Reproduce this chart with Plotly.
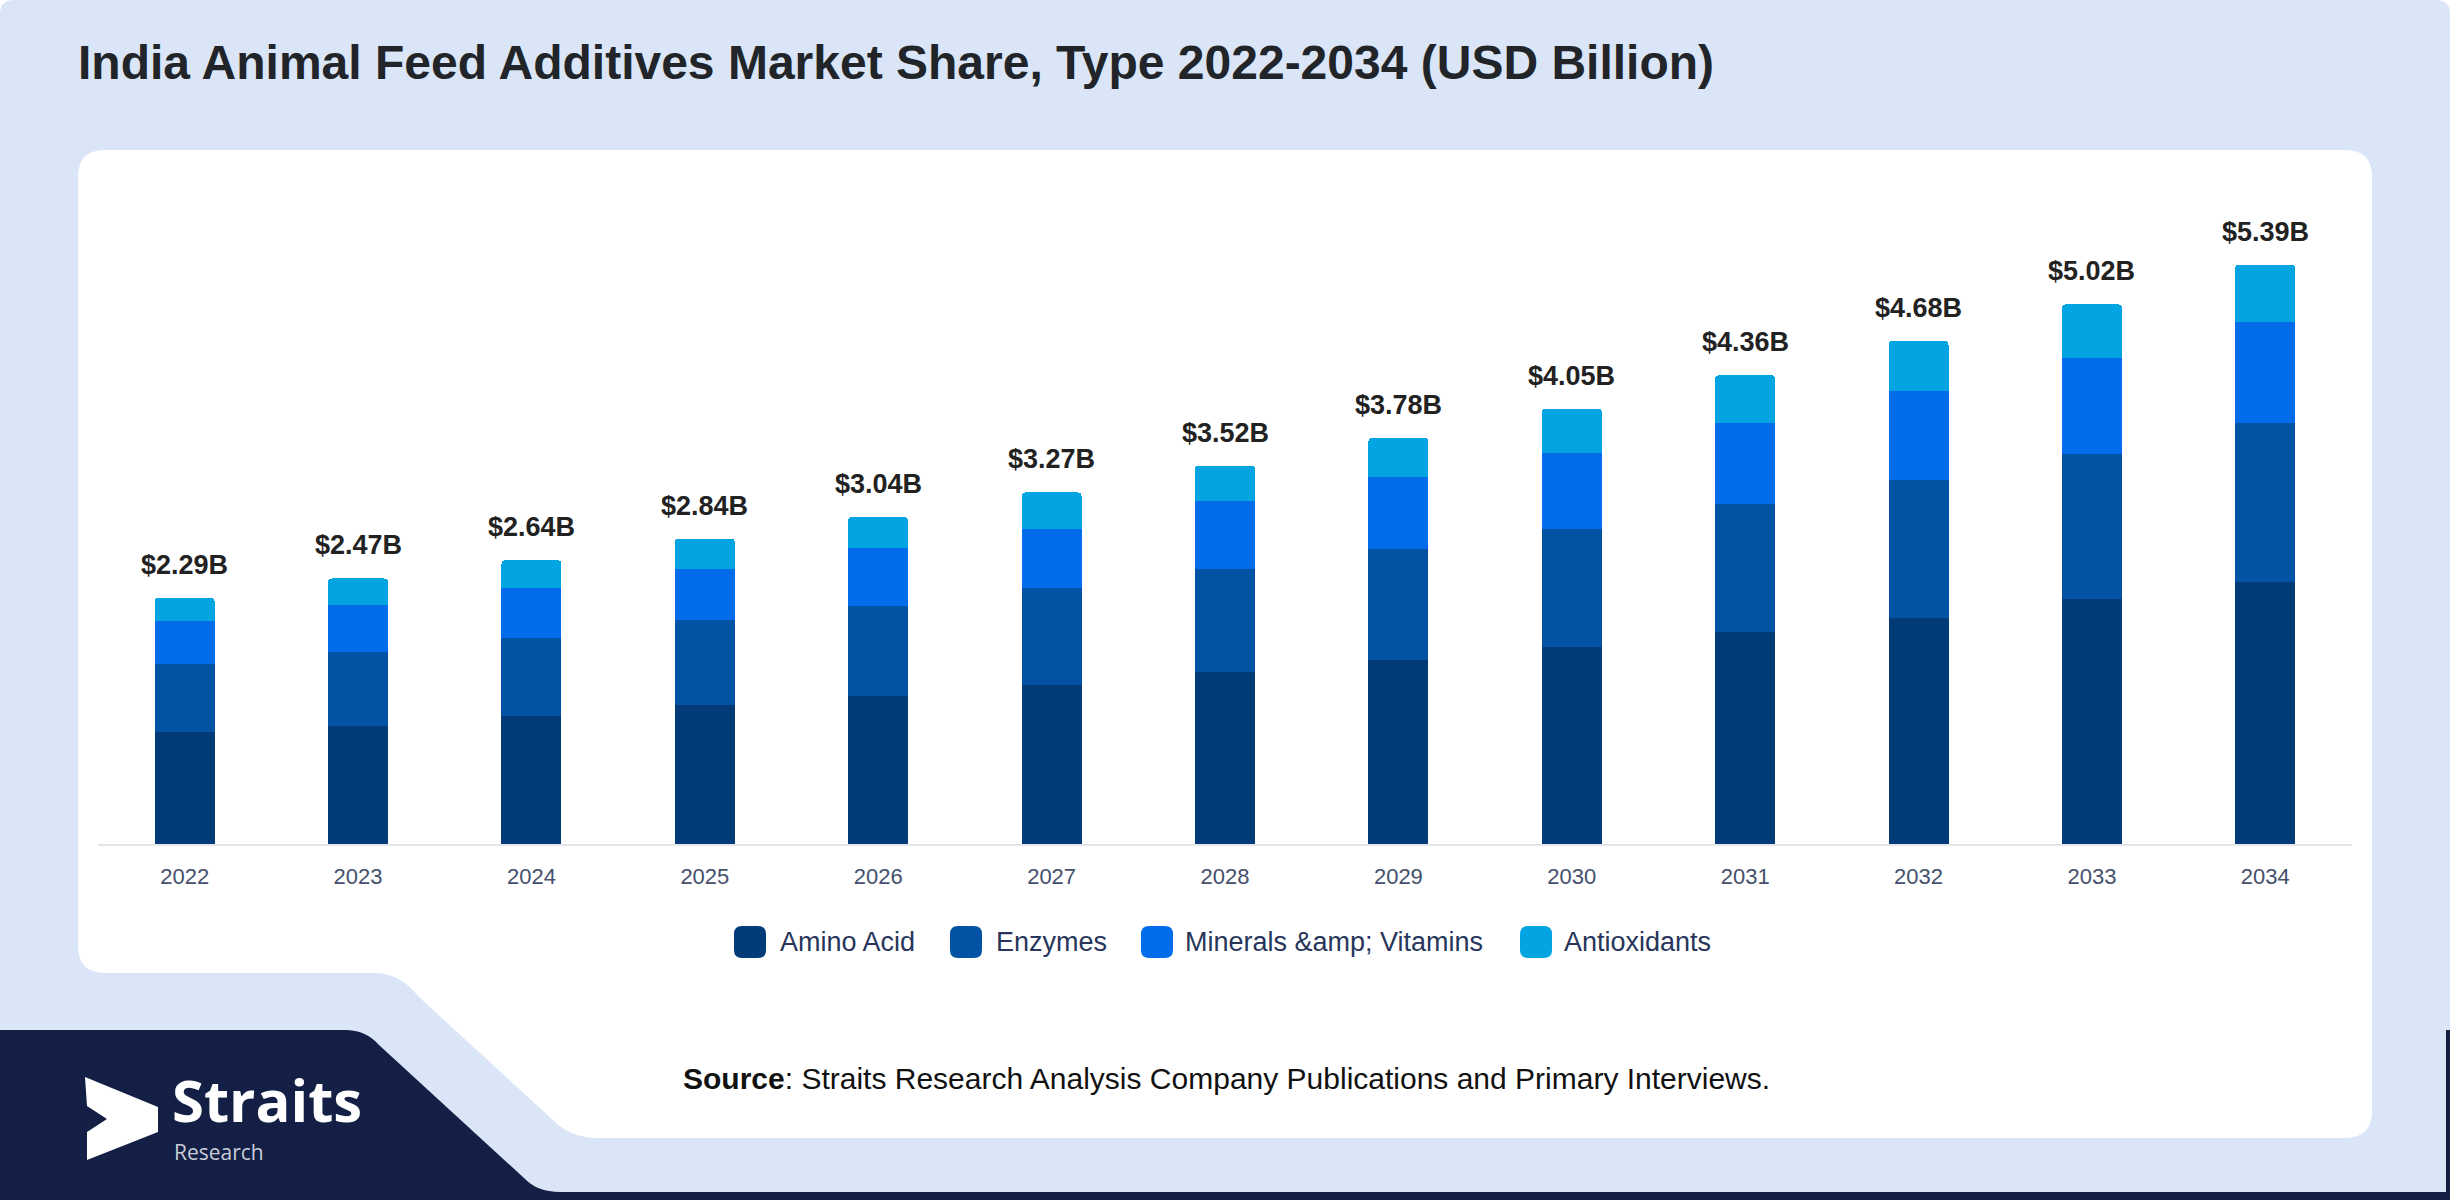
import plotly.graph_objects as go

# data (USD Billion)
years = ['2022', '2023', '2024', '2025', '2026', '2027', '2028',
         '2029', '2030', '2031', '2032', '2033', '2034']
amino_acid = [1.04, 1.10, 1.19, 1.29, 1.38, 1.48, 1.60, 1.71, 1.83, 1.97, 2.10, 2.28, 2.44]
enzymes = [0.63, 0.69, 0.73, 0.79, 0.83, 0.90, 0.96, 1.03, 1.10, 1.19, 1.29, 1.35, 1.48]
minerals_vitamins = [0.40, 0.43, 0.46, 0.48, 0.54, 0.55, 0.63, 0.67, 0.71, 0.76, 0.82, 0.89, 0.94]
antioxidants = [0.22, 0.25, 0.26, 0.28, 0.29, 0.34, 0.33, 0.37, 0.41, 0.44, 0.47, 0.50, 0.53]
totals = [2.29, 2.47, 2.64, 2.84, 3.04, 3.27, 3.52, 3.78, 4.05, 4.36, 4.68, 5.02, 5.39]

series_names = ['Amino Acid', 'Enzymes', 'Minerals &amp; Vitamins', 'Antioxidants']
series_values = [amino_acid, enzymes, minerals_vitamins, antioxidants]
colors = ['#023b78', '#0352a3', '#026ceb', '#02a4e1']

FONT = 'Liberation Sans, Arial, sans-serif'
W, H = 2450, 1200
# plot area in pixels
L, R, T, B = 98, 2352, 199, 844
PW, PH = R - L, B - T


def px(x):
    return (x - L) / PW


def py(y):
    return (B - y) / PH


def path(pts):
    # pts: list of (cmd, x, y) or ('Q', cx, cy, x, y) in pixels
    out = []
    for p in pts:
        if p[0] == 'Q':
            out.append('Q%.5f,%.5f %.5f,%.5f' % (px(p[1]), py(p[2]), px(p[3]), py(p[4])))
        elif p[0] == 'Z':
            out.append('Z')
        else:
            out.append('%s%.5f,%.5f' % (p[0], px(p[1]), py(p[2])))
    return ' '.join(out)


fig = go.Figure()
for name, vals, col in zip(series_names, series_values, colors):
    fig.add_trace(go.Bar(x=years, y=vals, name=name.replace('&amp;', '&'),
                         marker=dict(color=col, line=dict(width=0)),
                         showlegend=False))

shapes = []
# light blue background
shapes.append(dict(type='path', xref='paper', yref='paper', layer='below',
                   fillcolor='#dae6f8', line=dict(width=0),
                   path=path([('M', 0, 14), ('Q', 0, 0, 14, 0), ('L', 2436, 0),
                              ('Q', 2450, 0, 2450, 14), ('L', 2450, 1200),
                              ('L', 0, 1200), ('Z',)])))
# navy corner
shapes.append(dict(type='path', xref='paper', yref='paper', layer='below',
                   fillcolor='#131f45', line=dict(width=0),
                   path=path([('M', 0, 1030), ('L', 345, 1030),
                              ('Q', 366, 1030, 379, 1045), ('L', 524, 1178),
                              ('Q', 537, 1192, 560, 1192), ('L', 2446, 1192),
                              ('L', 2446, 1030), ('L', 2450, 1030),
                              ('L', 2450, 1200), ('L', 0, 1200), ('Z',)])))
# white card
shapes.append(dict(type='path', xref='paper', yref='paper', layer='below',
                   fillcolor='white', line=dict(width=0),
                   path=path([('M', 78, 177), ('Q', 78, 150, 105, 150),
                              ('L', 2345, 150), ('Q', 2372, 150, 2372, 177),
                              ('L', 2372, 1111), ('Q', 2372, 1138, 2345, 1138),
                              ('L', 598, 1138), ('Q', 572, 1138, 555, 1122),
                              ('L', 418, 996), ('Q', 400, 973, 375, 973),
                              ('L', 105, 973), ('Q', 78, 973, 78, 946), ('Z',)])))
# logo mark
shapes.append(dict(type='path', xref='paper', yref='paper', layer='above',
                   fillcolor='white', line=dict(width=0),
                   path=path([('M', 85, 1077), ('L', 158, 1107), ('L', 158, 1132),
                              ('L', 87, 1160), ('L', 87, 1132), ('L', 107, 1119),
                              ('L', 87, 1106), ('Z',)])))

annotations = []
# totals above bars (x as category index)
for i, t in enumerate(totals):
    annotations.append(dict(x=i, y=t, xref='x', yref='y', text='<b>$%.2fB</b>' % t,
                            showarrow=False, yanchor='bottom', yshift=16,
                            font=dict(family=FONT, size=27, color='#222222')))

# custom legend
pill_x = [734, 950, 1141, 1520]
text_x = [778, 994, 1183, 1562]
ly = 942
for name, col, x0, tx in zip(series_names, colors, pill_x, text_x):
    x1, y0, y1, r = x0 + 32, ly - 16, ly + 16, 8
    shapes.append(dict(type='path', xref='paper', yref='paper', fillcolor=col,
                       line=dict(width=0),
                       path=path([('M', x0 + r, y0), ('L', x1 - r, y0), ('Q', x1, y0, x1, y0 + r),
                                  ('L', x1, y1 - r), ('Q', x1, y1, x1 - r, y1),
                                  ('L', x0 + r, y1), ('Q', x0, y1, x0, y1 - r),
                                  ('L', x0, y0 + r), ('Q', x0, y0, x0 + r, y0), ('Z',)])))
    annotations.append(dict(x=px(tx), y=py(ly), xref='paper', yref='paper',
                            text=name.replace('&', '&amp;'), showarrow=False,
                            xanchor='left', yanchor='middle',
                            font=dict(family=FONT, size=27, color='#27365a')))

# source line
annotations.append(dict(x=px(681), y=py(1078), xref='paper', yref='paper',
                        text='<b>Source</b>: Straits Research Analysis Company Publications and Primary Interviews.',
                        showarrow=False, xanchor='left', yanchor='middle',
                        font=dict(family=FONT, size=30, color='#111111')))
# logo text
annotations.append(dict(x=px(170), y=py(1099), xref='paper', yref='paper',
                        text='<b>Straits</b>', showarrow=False, xanchor='left', yanchor='middle',
                        font=dict(family='Open Sans, sans-serif', size=58, color='white')))
annotations.append(dict(x=px(172), y=py(1152), xref='paper', yref='paper',
                        text='Research', showarrow=False, xanchor='left', yanchor='middle',
                        font=dict(family='Open Sans, sans-serif', size=21, color='#c9cdd8')))

fig.update_layout(
    width=W, height=H,
    margin=dict(l=L, r=W - R, t=T, b=H - B, pad=0),
    paper_bgcolor='white', plot_bgcolor='rgba(0,0,0,0)',
    barmode='stack', bargap=0.654, barcornerradius=4,
    title=dict(text='<b>India Animal Feed Additives Market Share, Type 2022-2034 (USD Billion)</b>',
               x=78 / W, xanchor='left', xref='container',
               y=1 - 62 / H, yanchor='middle', yref='container',
               font=dict(family=FONT, size=48, color='#212529')),
    shapes=shapes, annotations=annotations,
    showlegend=False,
)
fig.update_xaxes(type='category', range=[-0.5, len(years) - 0.5], showgrid=False,
                 showline=True, linecolor='#e2e5ea', linewidth=2, ticks='',
                 ticklabelstandoff=12,
                 tickfont=dict(family=FONT, size=22, color='#44506c'))
fig.update_yaxes(range=[0, 6], visible=False, showgrid=False)

fig.write_html("out.html", config={'displayModeBar': False},
               post_script="document.body.style.margin='0';")
